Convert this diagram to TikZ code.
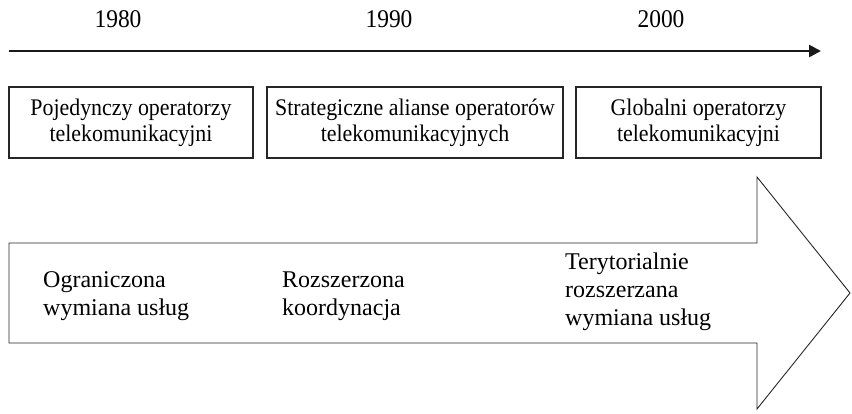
\documentclass[tikz,border=0pt]{standalone}
\usepackage{fontspec}
\setmainfont{Liberation Serif}
\newfontfamily\narrowserif[FakeStretch=0.92]{Liberation Serif}
\usetikzlibrary{arrows.meta}
\begin{document}
\begin{tikzpicture}[x=1pt,y=-1pt,
  yearlabel/.style={font=\narrowserif\fontsize{25.5}{28}\selectfont, inner sep=0pt},
  erabox/.style={draw=black!85, line width=1.1pt, minimum height=71pt, align=center,
    inner sep=0pt, font=\narrowserif\fontsize{23.8}{26}\selectfont},
  phase/.style={anchor=west, align=left, inner sep=0pt,
    font=\fontsize{24}{28}\selectfont}]
  \useasboundingbox (0,0) rectangle (852,413);

  % time axis with the decade marks
  \coordinate (axisL) at (9,51);
  \coordinate (axisR) at (821,51);
  \draw[line width=2.6pt, black!90, -{Triangle[length=12pt,width=12pt]}] (axisL) -- (axisR);
  \node[yearlabel] (y1980) at (118,19) {1980};
  \node[yearlabel] (y1990) at (389,19) {1990};
  \node[yearlabel] (y2000) at (661,19) {2000};

  % three stages of operators
  \node[erabox, minimum width=244pt] (ops1) at (131,122.5) {Pojedynczy operatorzy\\telekomunikacyjni};
  \node[erabox, minimum width=296pt] (ops2) at (415,122.5) {Strategiczne alianse operatorów\\telekomunikacyjnych};
  \node[erabox, minimum width=245pt] (ops3) at (698.5,122.5) {Globalni operatorzy\\telekomunikacyjni};

  % block arrow carrying the service-exchange phases
  \draw[line width=0.9pt, black!85, line join=miter]
    (9,243) -- (757,243) -- (757,177) -- (850,293) -- (757,409) -- (757,343) -- (9,343) -- cycle;
  \node[phase] (ph1) at (43,296) {Ograniczona\\wymiana usług};
  \node[phase] (ph2) at (282,296) {Rozszerzona\\koordynacja};
  \node[phase] (ph3) at (565,292) {Terytorialnie\\rozszerzana\\wymiana usług};
\end{tikzpicture}
\end{document}
